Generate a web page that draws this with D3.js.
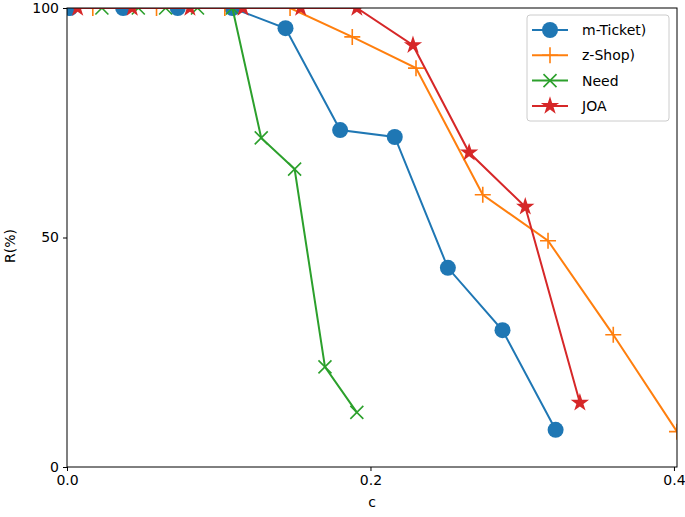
<!DOCTYPE html>
<html><head><meta charset="utf-8">
<script src="https://cdn.jsdelivr.net/npm/d3@7"></script>
<style>body{margin:0;background:#fff}svg{display:block}text{font-family:"DejaVu Sans",sans-serif}</style>
</head><body><svg id="c" width="685" height="517"></svg>
<script>
const seriesNames = ["m-Ticket)", "z-Shop)", "Need", "JOA"];
const mTicketX = [0.002, 0.037, 0.073, 0.109, 0.144, 0.180, 0.216, 0.251, 0.287, 0.322];
const mTicketY = [100, 100, 100, 100, 95.6, 73.4, 71.9, 43.4, 29.8, 8.1];
const zShopX = [0.017, 0.059, 0.104, 0.147, 0.188, 0.230, 0.274, 0.317, 0.360, 0.402];
const zShopY = [100, 100, 100, 100, 93.7, 86.9, 59.3, 49.3, 28.8, 7.7];
const needX = [0.023, 0.047, 0.065, 0.086, 0.109, 0.128, 0.150, 0.170, 0.191];
const needY = [100, 100, 100, 100, 100, 71.7, 64.9, 21.8, 11.9];
const joaX = [0.007, 0.043, 0.081, 0.116, 0.154, 0.191, 0.228, 0.265, 0.302, 0.338];
const joaY = [100, 100, 100, 100, 100, 100, 91.9, 68.5, 56.7, 14.0];
const xTicks = [0.0, 0.2, 0.4];
const yTicks = [0, 50, 100];
const colors = ["#1f77b4", "#ff7f0e", "#2ca02c", "#d62728"];
const markers = ["circle", "plus", "x", "star"];

const svg = d3.select("#c");
const L = 67, R = 677, T = 8, B = 467;
const x = d3.scaleLinear().domain([0, 0.402]).range([L, R]);
const y = d3.scaleLinear().domain([0, 100]).range([B, T]);

svg.append("defs").append("clipPath").attr("id","clip")
  .append("rect").attr("x",L).attr("y",T).attr("width",R-L).attr("height",B-T);

const series = [
  {name: seriesNames[0], xs: mTicketX, ys: mTicketY},
  {name: seriesNames[1], xs: zShopX, ys: zShopY},
  {name: seriesNames[2], xs: needX, ys: needY},
  {name: seriesNames[3], xs: joaX, ys: joaY}
];

function drawMarker(g, type, cx, cy, color) {
  if (type === "circle") {
    g.append("circle").attr("cx",cx).attr("cy",cy).attr("r",8).attr("fill",color);
  } else if (type === "plus") {
    g.append("path").attr("d",`M${cx-8},${cy}H${cx+8}M${cx},${cy-8}V${cy+8}`)
      .attr("stroke",color).attr("stroke-width",1.6).attr("fill","none");
  } else if (type === "x") {
    const s = 6.5;
    g.append("path").attr("d",`M${cx-s},${cy-s}L${cx+s},${cy+s}M${cx-s},${cy+s}L${cx+s},${cy-s}`)
      .attr("stroke",color).attr("stroke-width",1.6).attr("fill","none");
  } else {
    const sym = d3.symbol().type(d3.symbolStar).size(105);
    g.append("path").attr("d", sym()).attr("transform",`translate(${cx},${cy})`).attr("fill",color);
  }
}

const plot = svg.append("g").attr("clip-path","url(#clip)");
series.forEach((s, i) => {
  const pts = s.xs.map((v, k) => [v, s.ys[k]]);
  const line = d3.line().x(d => x(d[0])).y(d => y(d[1]));
  plot.append("path").datum(pts).attr("d", line).attr("fill","none")
    .attr("stroke", colors[i]).attr("stroke-width", 2);
  pts.forEach(p => drawMarker(plot, markers[i], x(p[0]), y(p[1]), colors[i]));
});

// frame
svg.append("rect").attr("x",L).attr("y",T).attr("width",R-L).attr("height",B-T)
  .attr("fill","none").attr("stroke","#000").attr("stroke-width",1);

const xAxis = d3.axisBottom(x).tickValues(xTicks).tickFormat(d3.format(".1f")).tickSize(4).tickPadding(4);
const gx = svg.append("g").attr("transform",`translate(0,${B})`).call(xAxis);
gx.select(".domain").remove();
gx.selectAll("text").attr("font-size",14).attr("fill","#000").attr("font-family","DejaVu Sans");

const yAxis = d3.axisLeft(y).tickValues(yTicks).tickFormat(d3.format("d")).tickSize(4).tickPadding(4);
const gy = svg.append("g").attr("transform",`translate(${L},0)`).call(yAxis);
gy.select(".domain").remove();
gy.selectAll("text").attr("font-size",14).attr("fill","#000").attr("font-family","DejaVu Sans");

svg.append("text").attr("x",(L+R)/2).attr("y",507).attr("text-anchor","middle")
  .attr("font-size",14).text("c");
svg.append("text").attr("transform",`translate(15,246) rotate(-90)`)
  .attr("text-anchor","middle").attr("font-size",14).text("R(%)");

// legend
const lg = svg.append("g");
lg.append("rect").attr("x",527).attr("y",15).attr("width",142).attr("height",106)
  .attr("rx",3).attr("fill","#fff").attr("fill-opacity",0.8).attr("stroke","#ccc");
series.forEach((s, i) => {
  const yy = 30 + i * 25.3;
  lg.append("line").attr("x1",532).attr("x2",568).attr("y1",yy).attr("y2",yy)
    .attr("stroke",colors[i]).attr("stroke-width",2);
  drawMarker(lg, markers[i], 550, yy, colors[i]);
  lg.append("text").attr("x",582).attr("y",yy+5).attr("font-size",14).text(s.name);
});
</script></body></html>
